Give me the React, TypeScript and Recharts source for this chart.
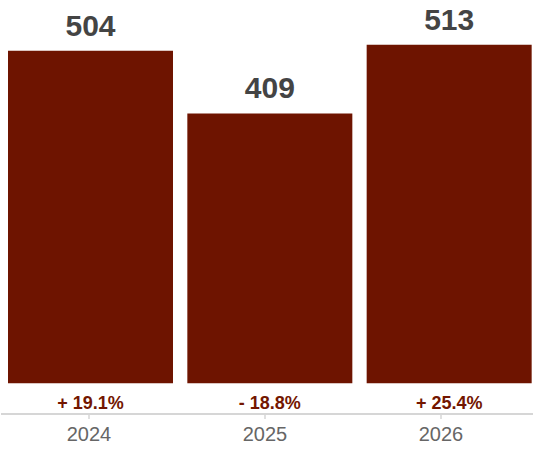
import { BarChart, Bar, XAxis, YAxis, LabelList } from "recharts";

const years = ["2024", "2025", "2026"];
const totals = [504, 409, 513];
const changes = ["+ 19.1%", "- 18.8%", "+ 25.4%"];

const BAR = "#6e1400";
const FONT = "'Liberation Sans', Arial, Helvetica, sans-serif";

const data = years.map((year, i) => ({ year, total: totals[i], change: changes[i] }));

export default function App() {
  return (
    <div style={{ position: "absolute", left: 0, top: 0, width: 533, height: 450, overflow: "hidden", background: "#fff", fontFamily: FONT }}>
      <BarChart width={539} height={450} data={data} margin={{ top: 0, right: 0, left: 1, bottom: 0 }}>
        {/* bars sit on a slightly wider band than the visible year axis */}
        <XAxis xAxisId="bars" dataKey="year" hide height={0} />
        <XAxis
          xAxisId="ticks"
          dataKey="year"
          height={36}
          padding={{ left: 0, right: 10 }}
          axisLine={{ stroke: "#d6d6d6", strokeWidth: 2 }}
          tickLine={{ stroke: "#d6d6d6", strokeWidth: 1.5 }}
          tickSize={5}
          tickMargin={8}
          tick={{ fontSize: 20, fill: "#666", fontFamily: FONT }}
        />
        <YAxis hide domain={[-46.5, 581]} allowDataOverflow />
        <Bar xAxisId="bars" dataKey="total" fill={BAR} barSize={165} isAnimationActive={false}>
          <LabelList dataKey="total" position="top" offset={15} style={{ fontSize: 30, fontWeight: 700, fill: "#444", fontFamily: FONT }} />
          <LabelList dataKey="change" position="bottom" offset={13} style={{ fontSize: 18, fontWeight: 700, fill: "#731600", fontFamily: FONT }} />
        </Bar>
      </BarChart>
    </div>
  );
}
